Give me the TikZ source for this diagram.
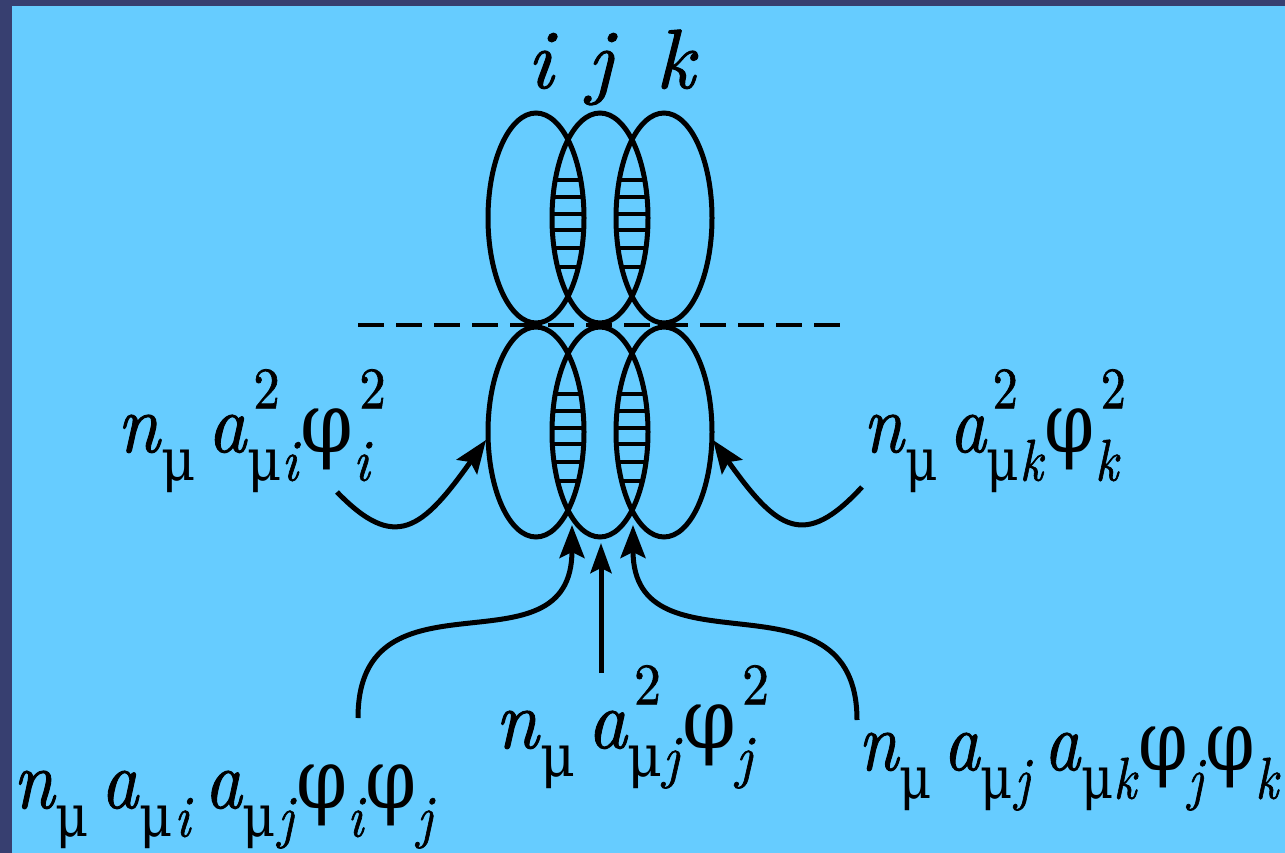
\documentclass[tikz,border=0pt]{standalone}
\usepackage{fontspec}
\newfontfamily\lmh{lmroman10}[Extension=.otf, UprightFont=*-regular, ItalicFont=*-italic, FakeBold=1.2]
\newfontfamily\grk{DejaVu Serif}
\usepackage{graphicx}
\usetikzlibrary{shapes.geometric,arrows.meta}
\definecolor{bgdark}{HTML}{373F70}
\definecolor{bglight}{HTML}{66CCFF}
\newcommand{\lb}[1]{\raisebox{-0.34em}{\scalebox{0.7}{#1}}}
\newcommand{\ub}[1]{\raisebox{0.52em}{\scalebox{0.7}{#1}}}
\newcommand{\ulb}[2]{\rlap{\hspace{0.08em}\ub{#1}}\lb{#2}}
\newcommand{\gm}{{\grk μ}}
\newcommand{\gf}{{\grk φ}}
\newcommand{\wsp}{\hspace{0.16em}}
\newcommand{\fitw}[2]{\resizebox{#1}{\height}{#2}}
\begin{document}
\begin{tikzpicture}[x=1pt,y=-1pt,
  lens/.style={draw, ellipse, line width=5pt, minimum width=96pt, minimum height=210pt, inner sep=0pt},
  hatch/.style={line width=4pt},
  conn/.style={line width=5pt, -{Stealth[length=33pt,width=25pt,inset=6pt]}},
  lab/.style={anchor=base west, inner sep=0pt, font=\lmh\fontsize{84}{100}\selectfont},
  idx/.style={anchor=base, inner sep=0pt, font=\lmh\fontsize{84}{100}\selectfont\itshape}]
\fill[bgdark] (0,0) rectangle (1285,853);
\fill[bglight] (12,6) rectangle (1285,853);
\useasboundingbox (0,0) rectangle (1285,853);
% ellipses
\node[lens] (L1) at (536,218) {};
\node[lens] (M1) at (600,218) {};
\node[lens] (R1) at (664,218) {};
\node[lens] (L2) at (536,432) {};
\node[lens] (M2) at (600,432) {};
\node[lens] (R2) at (664,432) {};
% hatching
\foreach \c in {218,432}{\foreach \cx in {536,600}{\foreach \dy in {-38,-21,-4,12,30,49}{
  \pgfmathsetmacro{\w}{48*sqrt(1-(\dy/105)^2)}
  \draw[hatch] ({\cx+64-\w},{\c+\dy}) -- ({\cx+\w},{\c+\dy});
}}}
% dashed line
\coordinate (dl) at (358,325);
\coordinate (dr) at (840,325);
\draw[line width=4pt, dash pattern=on 26pt off 12pt] (dl) -- (dr);
% indices
\node[idx] (ni) at (540,88) {i};
\node[idx] (nj) at (600,88) {j};
\node[idx] (nk) at (675,88) {k};
% labels
\node[lab] (tL) at (117,452) {\fitw{255pt}{\textit{n}\lb{\gm}\wsp\textit{a}\ulb{2}{\gm\textit{i}}\gf\ulb{2}{\textit{i}}}};
\node[lab] (tR) at (863,452) {\fitw{257pt}{\textit{n}\lb{\gm}\wsp\textit{a}\ulb{2}{\gm\textit{k}}\gf\ulb{2}{\textit{k}}}};
\node[lab] (tM) at (495,748) {\fitw{260pt}{\textit{n}\lb{\gm}\wsp\textit{a}\ulb{2}{\gm\textit{j}}\gf\ulb{2}{\textit{j}}}};
\node[lab] (tBL) at (13,808) {\fitw{422pt}{\textit{n}\lb{\gm}\wsp\textit{a}\lb{\gm\kern0.04em\textit{i}}\wsp\textit{a}\lb{\gm\kern0.04em\textit{j}}\gf\lb{\textit{i}}\gf\lb{\textit{j}}}};
\node[lab] (tBR) at (858,770) {\fitw{422pt}{\textit{n}\lb{\gm}\wsp\textit{a}\lb{\gm\kern0.04em\textit{j}}\wsp\textit{a}\lb{\gm\textit{k}}\gf\lb{\textit{j}}\gf\lb{\textit{k}}}};
% arrows
\coordinate (sL) at (337,492);
\coordinate (eL) at (486,440);
\coordinate (sR) at (862,487);
\coordinate (eR) at (713,440);
\coordinate (sBL) at (358,718);
\coordinate (eBL) at (572,525);
\coordinate (sBR) at (857,720);
\coordinate (eBR) at (633,525);
\coordinate (sM) at (601,673);
\coordinate (eM) at (601,543);
\draw[conn] (sL) .. controls (395,552) and (422,530) .. (eL);
\draw[conn] (sR) .. controls (804,550) and (777,530) .. (eR);
\draw[conn] (sBL) .. controls (358,560) and (572,680) .. (eBL);
\draw[conn] (sBR) .. controls (857,562) and (633,680) .. (eBR);
\draw[conn, -{Stealth[length=30pt,width=21pt,inset=5pt]}] (sM) -- (eM);
\end{tikzpicture}
\end{document}
